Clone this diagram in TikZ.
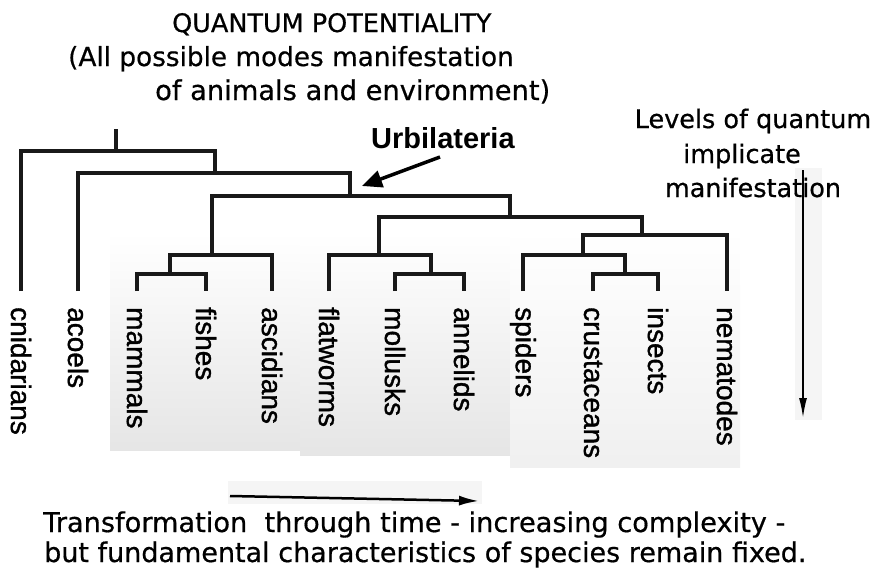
\documentclass[tikz,border=0pt]{standalone}
\usepackage{fontspec}
\setmainfont{DejaVu Sans}[FakeBold=0.5]
\newfontfamily\dvf{DejaVu Sans}[FakeBold=0.6]
\newfontfamily\arialf{Liberation Sans}[FakeBold=1.2]
\newfontfamily\arialbf{Liberation Sans Bold}
\usetikzlibrary{arrows.meta}
\begin{document}
\begin{tikzpicture}[x=1pt,y=-1pt,
  branch/.style={line width=3.6pt,line join=miter,draw=black!90},
  leaflabel/.style={rotate=-90,anchor=west,inner sep=0pt,font=\arialf\fontsize{28}{30}\selectfont},
  panel/.style={draw=none,top color=white,bottom color=black!10},
  band/.style={draw=none,fill=black!4},
  txt/.style={inner sep=0pt,anchor=base west}]
\useasboundingbox (0,0) rectangle (876,573);
% background panels
\path[panel] (110,232) rectangle (300,450);
\path[panel] (300,232) rectangle (510,455);
\path[panel,bottom color=black!6] (510,230) rectangle (740,467);
\path[band] (228,481) rectangle (482,504);
\path[band] (795,168) rectangle (822,420);
% title texts
\node[txt,font=\dvf\fontsize{25.5}{30}\selectfont] (t1) at (172,32) {QUANTUM POTENTIALITY};
\node[txt,font=\dvf\fontsize{26.3}{30}\selectfont] (t2) at (68,66) {(All possible modes manifestation};
\node[txt,font=\dvf\fontsize{27.3}{30}\selectfont] (t3) at (155,100) {of animals and environment)};
\node[txt,font=\arialbf\fontsize{29}{30}\selectfont] (urb) at (371,148) {Urbilateria};
\node[inner sep=0pt,anchor=base,font=\dvf\fontsize{25.5}{30}\selectfont] (r1) at (753,128) {Levels of quantum};
\node[inner sep=0pt,anchor=base,font=\dvf\fontsize{25.5}{30}\selectfont] (r2) at (742,163) {implicate};
\node[inner sep=0pt,anchor=base,font=\dvf\fontsize{25.5}{30}\selectfont] (r3) at (753,197) {manifestation};
\node[txt,font=\dvf\fontsize{27.2}{30}\selectfont] (b1) at (43,532) {Transformation\ \ through time - increasing complexity -};
\node[txt,font=\dvf\fontsize{27}{30}\selectfont] (b2) at (44,562) {but fundamental characteristics of species remain fixed.};
% tree coordinates
\coordinate (rt) at (116,129);
\coordinate (n1) at (116,151);
\coordinate (n2) at (215,173);
\coordinate (n3) at (350,196);
\coordinate (v) at (212,255);
\coordinate (v2) at (170,274);
\coordinate (p) at (510,217);
\coordinate (s) at (379,255);
\coordinate (s2) at (431,274);
\coordinate (e) at (642,235);
\coordinate (e2) at (583,255);
\coordinate (e3) at (625,274);
\foreach \n/\x in {cni/21,aco/78,mam/137,fis/206,asc/272,fla/329,mol/395,ann/464,spi/523,cru/593,ins/658,nem/727}
  \coordinate (\n) at (\x,291);
% leaf labels
\foreach \n/\x/\t in {cni/21/cnidarians,aco/78/acoels,mam/137/mammals,fis/206/fishes,asc/272/ascidians,fla/329/flatworms,mol/395/mollusks,ann/464/annelids,spi/523/spiders,cru/593/crustaceans,ins/658/insects,nem/727/nematodes}
  \node[leaflabel] (L\n) at (\x,307) {\t};
% branches
\draw[branch] (n1) -- (rt);
\draw[branch] (cni) |- (n1) -| (n2);
\draw[branch] (aco) |- (n2) -| (n3);
\draw[branch] (v) |- (n3) -| (p);
\draw[branch] (v2) |- (v) -| (asc);
\draw[branch] (mam) |- (v2) -| (fis);
\draw[branch] (s) |- (p) -| (e);
\draw[branch] (fla) |- (s) -| (s2);
\draw[branch] (mol) |- (s2) -| (ann);
\draw[branch] (e2) |- (e) -| (nem);
\draw[branch] (spi) |- (e2) -| (e3);
\draw[branch] (cru) |- (e3) -| (ins);
% arrows
\coordinate (ua) at (440,157);
\coordinate (ut) at (362,186);
\draw[line width=3.5pt,-{Triangle[length=20pt,width=17pt]}] (ua) -- (ut);
\coordinate (va) at (803,170);
\coordinate (vb) at (803,418);
\draw[line width=1.8pt,-{Latex[length=20pt,width=8pt]}] (va) -- (vb);
\coordinate (ha) at (230,496);
\coordinate (hb) at (479,501);
\draw[line width=2.5pt,-{Latex[length=20pt,width=10pt]}] (ha) -- (hb);
\end{tikzpicture}
\end{document}
